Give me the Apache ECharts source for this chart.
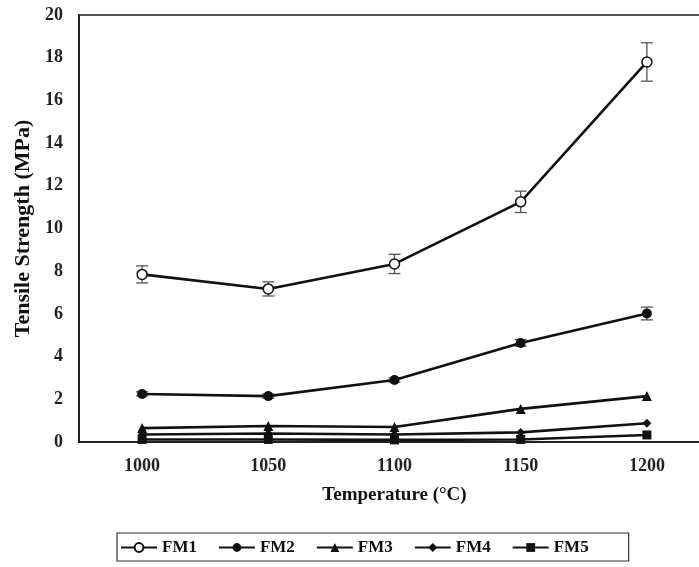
<!DOCTYPE html>
<html>
<head>
<meta charset="utf-8">
<script src="https://cdn.jsdelivr.net/npm/echarts@6/dist/echarts.min.js"></script>
<style>
html,body{margin:0;padding:0;background:#fff;}
#c{width:699px;height:567px;}
</style>
</head>
<body>
<div id="c"></div>
<script>
const categories = ['1000', '1050', '1100', '1150', '1200'];
const seriesNames = ['FM1', 'FM2', 'FM3', 'FM4', 'FM5'];
const fm1 = [7.85, 7.17, 8.34, 11.25, 17.8];
const fm1Err = [0.4, 0.33, 0.45, 0.5, 0.9];
const fm2 = [2.25, 2.15, 2.9, 4.64, 6.02];
const fm2Err = [0.1, 0.1, 0.1, 0.15, 0.3];
const fm3 = [0.65, 0.75, 0.7, 1.55, 2.15];
const fm4 = [0.35, 0.4, 0.35, 0.45, 0.88];
const fm5 = [0.12, 0.12, 0.1, 0.12, 0.33];
const yTicks = [0, 2, 4, 6, 8, 10, 12, 14, 16, 18, 20];

const font = 'Liberation Serif';
const chart = echarts.init(document.getElementById('c'));

function lineSeries(name, data, symbol, size, fill) {
  return {
    name: name, type: 'line', data: data,
    symbol: symbol, symbolSize: size, showSymbol: true,
    lineStyle: {color: '#111', width: 2.6},
    itemStyle: {color: fill, borderColor: '#111', borderWidth: fill === '#fff' ? 1.5 : 0},
    z: 3
  };
}

function errSeries(vals, errs) {
  const d = vals.map((v, i) => [i, v - errs[i], v + errs[i]]);
  return {
    type: 'custom', silent: true, z: 2,
    renderItem: function (params, api) {
      const x = api.value(0);
      const lo = api.coord([x, api.value(1)]);
      const hi = api.coord([x, api.value(2)]);
      const w = 6;
      const st = {stroke: '#555', lineWidth: 1.3};
      return {type: 'group', children: [
        {type: 'line', shape: {x1: lo[0], y1: lo[1], x2: hi[0], y2: hi[1]}, style: st},
        {type: 'line', shape: {x1: lo[0]-w, y1: lo[1], x2: lo[0]+w, y2: lo[1]}, style: st},
        {type: 'line', shape: {x1: hi[0]-w, y1: hi[1], x2: hi[0]+w, y2: hi[1]}, style: st}
      ]};
    },
    encode: {x: 0, y: [1, 2]},
    data: d
  };
}

chart.setOption({
  animation: false,
  backgroundColor: '#fff',
  grid: {left: 79, top: 15, width: 631, height: 427, show: true, borderColor: '#555', borderWidth: 2,
    containLabel: false, outerBoundsMode: 'none'},
  xAxis: {
    type: 'category', data: categories, boundaryGap: true,
    name: 'Temperature (°C)',
    nameLocation: 'middle', nameGap: 44,
    nameTextStyle: {fontFamily: font, fontWeight: 'bold', fontSize: 19, color: '#111'},
    axisLine: {lineStyle: {color: '#111', width: 1.5}},
    axisTick: {show: false},
    axisLabel: {fontFamily: font, fontWeight: 'bold', fontSize: 18, color: '#222', margin: 15},
    splitLine: {show: false}
  },
  yAxis: {
    type: 'value', min: 0, max: 20, interval: 2,
    name: 'Tensile Strength (MPa)',
    nameLocation: 'middle', nameGap: 39,
    nameTextStyle: {fontFamily: font, fontWeight: 'bold', fontSize: 22, color: '#111'},
    axisLine: {show: true, lineStyle: {color: '#111', width: 1.5}},
    axisTick: {show: false},
    axisLabel: {fontFamily: font, fontWeight: 'bold', fontSize: 18, color: '#222', margin: 16,
      formatter: v => yTicks.includes(v) ? String(v) : ''},
    splitLine: {show: false}
  },
  legend: {
    left: 117, top: 533,
    data: seriesNames,
    borderColor: '#333', borderWidth: 1.2,
    padding: [6, 40, 5, 3],
    itemGap: 21, itemWidth: 36, itemHeight: 11,
    textStyle: {fontFamily: font, fontWeight: 'bold', fontSize: 17, color: '#111'}
  },
  series: [
    errSeries(fm1, fm1Err),
    errSeries(fm2, fm2Err),
    lineSeries('FM1', fm1, 'circle', 10, '#fff'),
    lineSeries('FM2', fm2, 'circle', 10, '#111'),
    lineSeries('FM3', fm3, 'triangle', 10, '#111'),
    lineSeries('FM4', fm4, 'diamond', 9, '#111'),
    lineSeries('FM5', fm5, 'rect', 9, '#111')
  ]
});
</script>
</body>
</html>
